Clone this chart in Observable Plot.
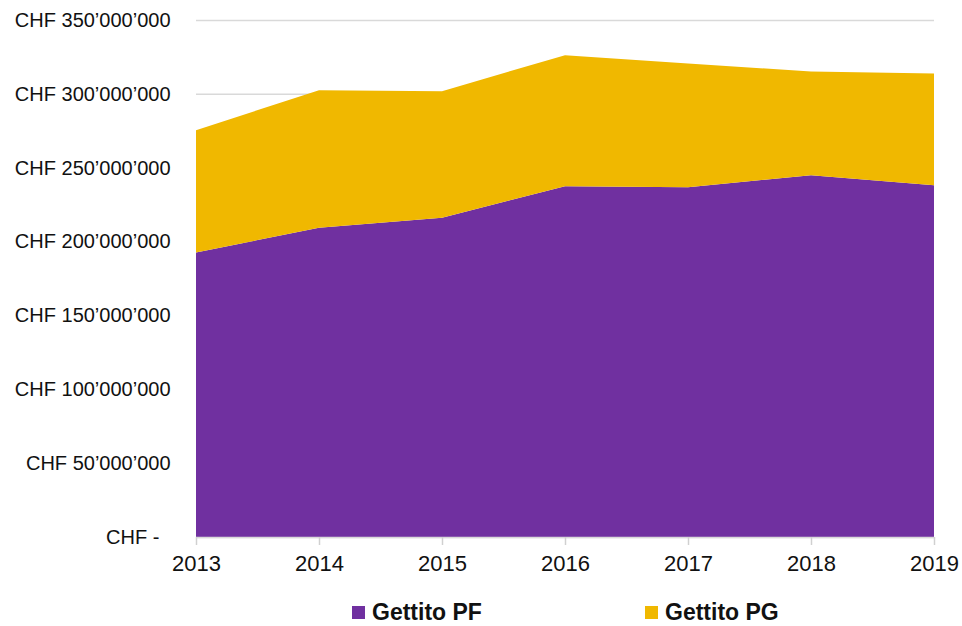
<!DOCTYPE html>
<html>
<head>
<meta charset="utf-8">
<script src="https://cdn.jsdelivr.net/npm/d3@7"></script>
<script src="https://cdn.jsdelivr.net/npm/@observablehq/plot@0.6"></script>
<style>
  html, body { margin: 0; padding: 0; background: #fff; }
  #wrap { position: relative; width: 962px; height: 626px; font-family: "Liberation Sans", Arial, sans-serif; }
  #legend { position: absolute; left: 0; top: 599px; width: 962px; height: 27px; }
  .item { position: absolute; top: 0; display: flex; align-items: center; font-weight: bold; font-size: 23px; color: #111; }
  .sw { width: 13px; height: 13px; margin-right: 7px; }
</style>
</head>
<body>
<div id="wrap"><div id="chart"></div><div id="legend"></div></div>
<script>
const years = [2013, 2014, 2015, 2016, 2017, 2018, 2019];
const gettitoPF = [192.6e6, 209.3e6, 216.1e6, 237.5e6, 236.8e6, 244.9e6, 238.2e6];
const gettitoPG = [82.8e6, 93.2e6, 85.7e6, 88.7e6, 83.7e6, 70.2e6, 75.6e6];
const seriesNames = ["Gettito PF", "Gettito PG"];
const seriesColors = ["#7030a0", "#f0b800"];
const yTicks = [0, 50e6, 100e6, 150e6, 200e6, 250e6, 300e6, 350e6];
const yTickLabels = ["CHF -\u00a0\u00a0", "CHF 50’000’000", "CHF 100’000’000", "CHF 150’000’000",
  "CHF 200’000’000", "CHF 250’000’000", "CHF 300’000’000", "CHF 350’000’000"];

const rows = [];
years.forEach((y, i) => {
  rows.push({year: y, series: seriesNames[0], value: gettitoPF[i]});
  rows.push({year: y, series: seriesNames[1], value: gettitoPG[i]});
});

const chart = Plot.plot({
  width: 962,
  height: 592,
  marginTop: 20,
  marginLeft: 196,
  marginRight: 28,
  marginBottom: 55,
  style: {fontFamily: "'Liberation Sans', Arial, sans-serif", color: "#111", background: "#fff"},
  x: {type: "linear", domain: [years[0], years[years.length - 1]]},
  y: {domain: [0, 350e6]},
  color: {domain: seriesNames, range: seriesColors},
  marks: [
    Plot.gridY(yTicks, {stroke: "#d9d9d9", strokeOpacity: 1, strokeWidth: 1.5}),
    Plot.areaY(rows, Plot.stackY({x: "year", y: "value", fill: "series", order: seriesNames, curve: "linear"})),
    Plot.ruleY([0], {stroke: "#d9d9d9", strokeWidth: 1.5}),
    Plot.axisY({ticks: yTicks, tickFormat: d => yTickLabels[yTicks.indexOf(d)], tickSize: 0, tickPadding: 26, fontSize: 20, fill: "#111", label: null}),
    Plot.axisX({ticks: years, tickFormat: d => String(d), tickSize: 8, tickPadding: 10, fontSize: 22, stroke: "#d0d0d0", strokeWidth: 1.5, fill: "#111", label: null})
  ]
});
document.getElementById("chart").appendChild(chart);

const legendX = [352, 645];
const legend = document.getElementById("legend");
seriesNames.forEach((name, i) => {
  const item = document.createElement("div");
  item.className = "item";
  item.style.left = legendX[i] + "px";
  const sw = document.createElement("span");
  sw.className = "sw";
  sw.style.background = seriesColors[i];
  const t = document.createElement("span");
  t.textContent = name;
  item.appendChild(sw);
  item.appendChild(t);
  legend.appendChild(item);
});
</script>
</body>
</html>
